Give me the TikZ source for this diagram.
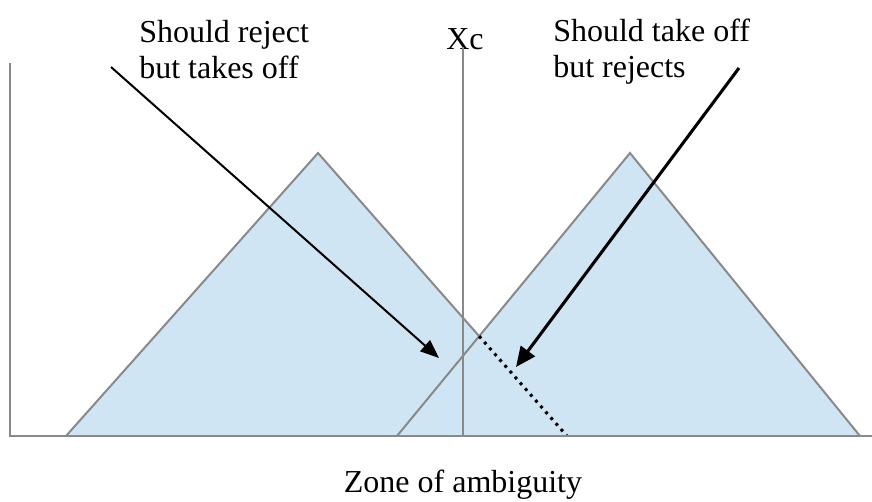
\documentclass[tikz,border=0pt]{standalone}
\usepackage{fontspec}
\setmainfont{Liberation Serif}
\usetikzlibrary{arrows.meta, intersections}

\definecolor{zonefill}{RGB}{208,229,243}
\definecolor{edgegray}{RGB}{137,137,137}

\begin{document}
\begin{tikzpicture}[x=0.75pt, y=-0.75pt,
    edge/.style={draw=edgegray, line width=1.5pt},
    zone/.style={fill=zonefill, draw=none},
    txt/.style={font=\fontsize{24}{27}\selectfont, inner sep=0pt, align=left},
    arrow/.style={-{Triangle[length=14pt, width=11pt]}, line width=1.5pt},
    bigarrow/.style={-{Triangle[length=15pt, width=13pt]}, line width=2.3pt},
    cutoff/.style={line width=2.3pt, dash pattern=on 2.2pt off 3.6pt}
  ]
  \useasboundingbox (0,0) rectangle (872,501);

  % corner points of the two triangles
  \coordinate (lbase) at (66,436);
  \coordinate (ltop) at (318,153);
  \coordinate (lend) at (567,436);
  \coordinate (rbase) at (397,436);
  \coordinate (rtop) at (630,153);
  \coordinate (rend) at (860,436);

  \fill[zone] (lbase) -- (ltop) -- (lend) -- cycle;
  \fill[zone] (rbase) -- (rtop) -- (rend) -- cycle;

  \path[name path=lside] (ltop) -- (lend);
  \path[name path=rside] (rbase) -- (rtop);
  \path[name intersections={of=lside and rside, by=cross}];

  % triangle edges
  \draw[edge] (lbase) -- (ltop) -- (cross);
  \draw[edge] (rbase) -- (rtop) -- (rend);
  \draw[cutoff] (cross) -- (lend);

  % axes
  \draw[edge] (9.5,63) -- (9.5,436) -- (872,436);
  \node[txt, anchor=base] (xc) at (465,49) {Xc};
  \draw[edge] (463,47) -- (463,436);

  \node[txt, anchor=north west] (reject) at (139,20) {Should reject\\but takes off};
  \node[txt, anchor=north west] (takeoff) at (553,19) {Should take off\\but rejects};
  \node[txt, anchor=base] (zone) at (463,492) {Zone of ambiguity};

  % arrows
  \coordinate (rejtail) at (111,67);
  \coordinate (rejtip) at (439,358);
  \coordinate (taketail) at (739,68);
  \coordinate (taketip) at (516,367);
  \draw[arrow] (rejtail) -- (rejtip);
  \draw[bigarrow] (taketail) -- (taketip);
\end{tikzpicture}
\end{document}
